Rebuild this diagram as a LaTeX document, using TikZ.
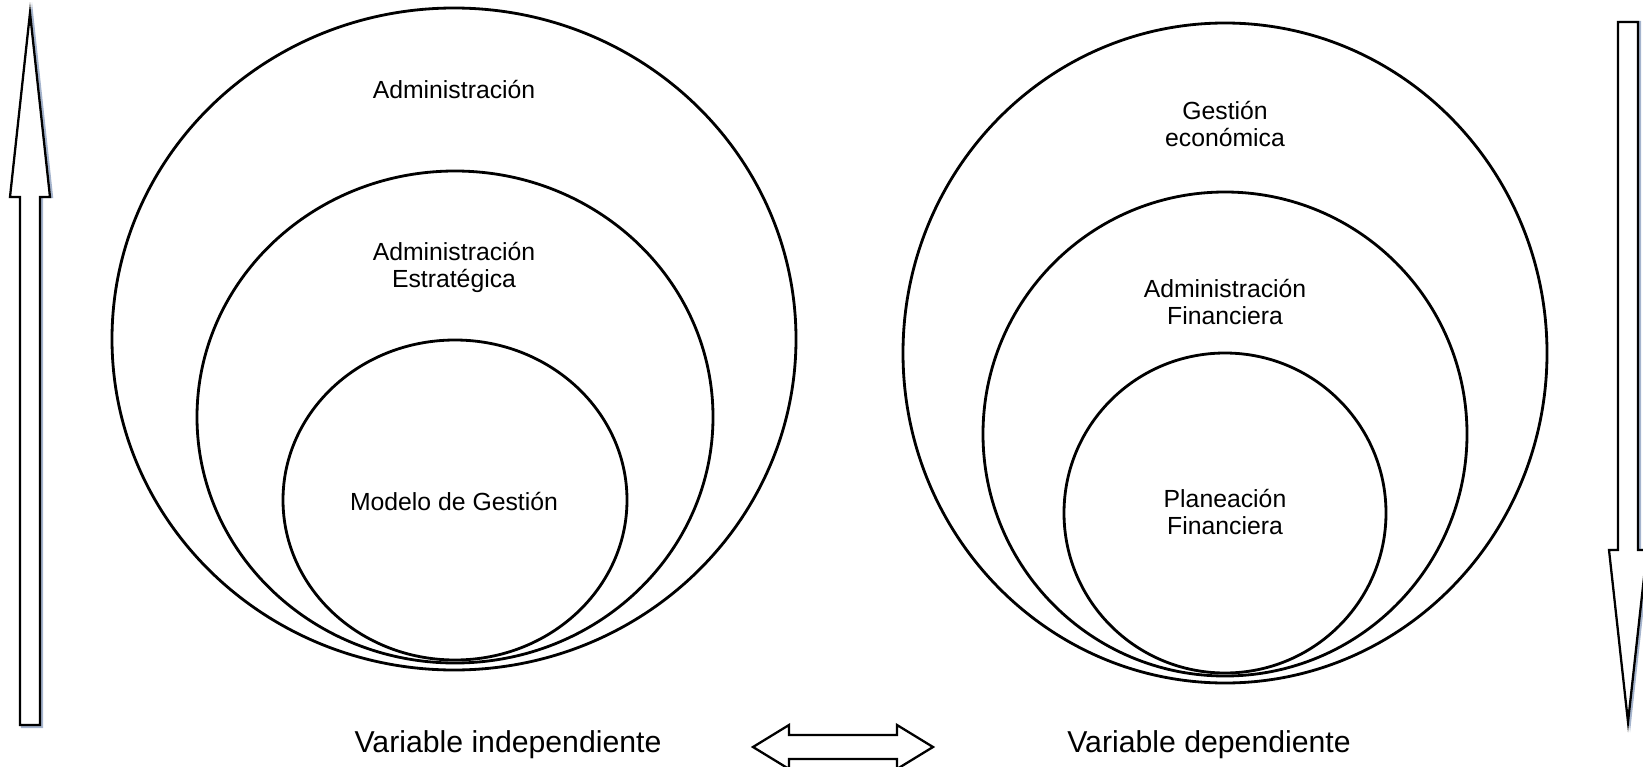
\documentclass[tikz,border=0pt]{standalone}
\usepackage{fontspec}
\setmainfont{Liberation Sans}
\definecolor{arrowshade}{RGB}{165,180,205}
\tikzset{
	ring/.style={draw, line width=1.6pt},
	blockarrow/.style={draw, fill=white, line width=1.3pt, line join=miter},
	blockshade/.style={draw=arrowshade, line width=1.3pt, line join=miter},
	ringtext/.style={align=center, inner sep=0pt, font=\fontsize{14.1}{15.4}\selectfont},
	vartext/.style={anchor=base, inner sep=0pt, font=\fontsize{17.2}{20}\selectfont}
}

\begin{document}
\begin{tikzpicture}[x=0.02cm, y=-0.02cm]
	\clip (0,0) rectangle (1643,767);

	% Nested circles, independent variable
	\draw[ring] (454,339) ellipse [x radius=342, y radius=331];
	\draw[ring] (455,417) ellipse [x radius=258, y radius=246];
	\draw[ring] (455,500) ellipse [x radius=172, y radius=160];
	\node[ringtext] (admin) at (454,90) {Administración};
	\node[ringtext] (estrat) at (454,267) {Administración\\Estratégica};
	\node[ringtext] (modelo) at (454,501) {Modelo de Gestión};

	% Nested circles, dependent variable
	\draw[ring] (1225,353) ellipse [x radius=322, y radius=330];
	\draw[ring] (1225,434) ellipse [x radius=242, y radius=242];
	\draw[ring] (1225,513) ellipse [x radius=161, y radius=160];
	\node[ringtext] (gestion) at (1225,124) {Gestión\\económica};
	\node[ringtext] (adminfin) at (1225,302) {Administración\\Financiera};
	\node[ringtext] (planea) at (1225,512) {Planeación\\Financiera};

	% Side arrows
	\draw[blockshade] (32,13) -- (52,197) -- (42,197) -- (42,727) -- (22,727) -- (22,197) -- (12,197) -- cycle;
	\draw[blockarrow] (30,13) -- (50,197) -- (40,197) -- (40,725) -- (20,725) -- (20,197) -- (10,197) -- cycle;
	\draw[blockshade] (1620,22) -- (1640,22) -- (1640,550) -- (1649,550) -- (1630,722) -- (1611,550) -- (1620,550) -- cycle;
	\draw[blockarrow] (1618,22) -- (1638,22) -- (1638,550) -- (1647,550) -- (1628,722) -- (1609,550) -- (1618,550) -- cycle;

	% Labels and double arrow
	\node[vartext] (varind) at (508,752) {Variable independiente};
	\node[vartext] (vardep) at (1209,752) {Variable dependiente};
	\draw[blockarrow] (753,747) -- (789,725) -- (789,735) -- (897,735) -- (897,725) -- (933,747)
		-- (897,769) -- (897,759) -- (789,759) -- (789,769) -- cycle;
\end{tikzpicture}
\end{document}
